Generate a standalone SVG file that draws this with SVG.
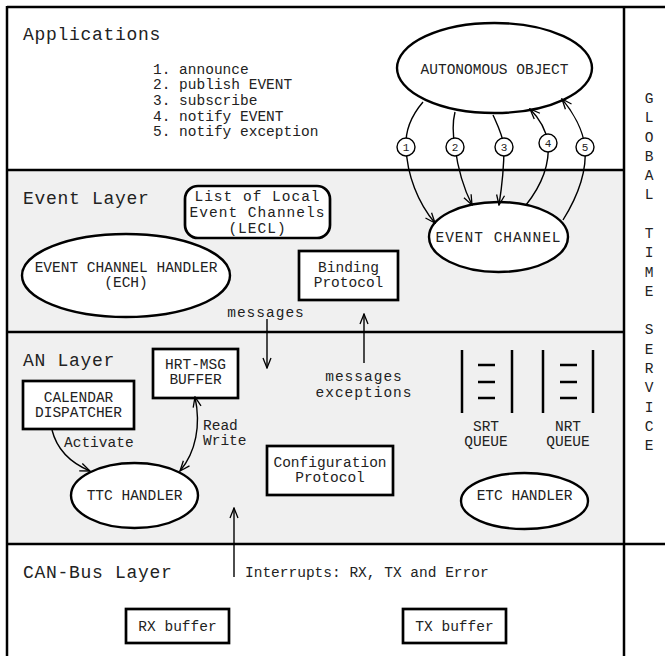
<svg xmlns="http://www.w3.org/2000/svg" width="665" height="656" viewBox="0 0 665 656">
<defs>
<marker id="arr" markerUnits="userSpaceOnUse" markerWidth="12" markerHeight="10" viewBox="0 0 12 10" refX="11" refY="5" orient="auto-start-reverse">
<path d="M1,1 L11,5 L1,9" fill="none" stroke="#000" stroke-width="1.3"/>
</marker>
</defs>
<style>
text{font-family:"Liberation Mono","Courier New",monospace;fill:#222;}
.t{font-size:14.5px;}
.m{font-size:14.5px;letter-spacing:1px;}
.h{font-size:18px;letter-spacing:0.7px;}
.c{text-anchor:middle;}
.box{fill:#fff;stroke:#000;stroke-width:2.7;}
.ell{fill:#fff;stroke:#000;stroke-width:2.4;}
.frame{stroke:#000;stroke-width:2.5;fill:none;}
.con{fill:none;stroke:#000;stroke-width:1.4;}
.num{fill:#fff;stroke:#000;stroke-width:1.4;}
.n{font-size:11px;text-anchor:middle;}
</style>
<rect x="0" y="0" width="665" height="656" fill="#fff"/>
<rect x="7" y="170" width="617" height="162" fill="#f0f0f0"/>
<rect x="7" y="332" width="617" height="212" fill="#f0f0f0"/>
<g id="frame">
<line class="frame" x1="7" y1="7" x2="665" y2="7"/>
<line class="frame" x1="7" y1="6" x2="7" y2="656"/>
<line class="frame" x1="624" y1="6" x2="624" y2="656"/>
<line class="frame" x1="7" y1="170" x2="624" y2="170"/>
<line class="frame" x1="7" y1="332" x2="624" y2="332"/>
<line class="frame" x1="7" y1="544" x2="665" y2="544"/>
</g>
<g id="layer-titles">
<text class="h" x="23" y="40">Applications</text>
<text class="h" x="23" y="204">Event Layer</text>
<text class="h" x="23" y="366">AN Layer</text>
<text class="h" x="23" y="578">CAN-Bus Layer</text>
</g>
<g id="legend">
<text class="t" x="153" y="73.5">1. announce</text>
<text class="t" x="153" y="89">2. publish EVENT</text>
<text class="t" x="153" y="105">3. subscribe</text>
<text class="t" x="153" y="120.5">4. notify EVENT</text>
<text class="t" x="153" y="136">5. notify exception</text>
</g>
<g id="global-time-service">
<text class="t c" x="649" y="103">G</text>
<text class="t c" x="649" y="122.3">L</text>
<text class="t c" x="649" y="141.6">O</text>
<text class="t c" x="649" y="160.8">B</text>
<text class="t c" x="649" y="180.1">A</text>
<text class="t c" x="649" y="199.4">L</text>
<text class="t c" x="649" y="238">T</text>
<text class="t c" x="649" y="257.2">I</text>
<text class="t c" x="649" y="276.5">M</text>
<text class="t c" x="649" y="295.8">E</text>
<text class="t c" x="649" y="334.4">S</text>
<text class="t c" x="649" y="353.6">E</text>
<text class="t c" x="649" y="372.9">R</text>
<text class="t c" x="649" y="392.2">V</text>
<text class="t c" x="649" y="411.5">I</text>
<text class="t c" x="649" y="430.8">C</text>
<text class="t c" x="649" y="450">E</text>
</g>
<g id="autonomous-object">
<ellipse class="ell" cx="494.5" cy="68" rx="97.5" ry="45"/>
<text class="t c" x="494.5" y="74">AUTONOMOUS OBJECT</text>
</g>
<g id="event-channel">
<ellipse class="ell" cx="498.5" cy="237" rx="69.5" ry="35"/>
<text class="m c" x="498.5" y="242">EVENT CHANNEL</text>
</g>
<g id="lecl">
<rect class="box" x="185" y="186" width="145" height="52" rx="13"/>
<text class="m c" x="257.5" y="201">List of Local</text>
<text class="m c" x="257.5" y="217">Event Channels</text>
<text class="m c" x="257.5" y="233">(LECL)</text>
</g>
<g id="ech">
<ellipse class="ell" cx="126" cy="275.5" rx="104" ry="41.5"/>
<text class="t c" x="126" y="272">EVENT CHANNEL HANDLER</text>
<text class="t c" x="126" y="287">(ECH)</text>
</g>
<g id="binding-protocol">
<rect class="box" x="299" y="251" width="99" height="49"/>
<text class="t c" x="348.5" y="272">Binding</text>
<text class="t c" x="348.5" y="287">Protocol</text>
</g>
<g id="hrt-msg-buffer">
<rect class="box" x="153" y="349" width="85" height="49"/>
<text class="t c" x="195.5" y="369">HRT-MSG</text>
<text class="t c" x="195.5" y="384">BUFFER</text>
</g>
<g id="calendar-dispatcher">
<rect class="box" x="23" y="381" width="111" height="48"/>
<text class="t c" x="78.5" y="402">CALENDAR</text>
<text class="t c" x="78.5" y="417">DISPATCHER</text>
</g>
<g id="ttc-handler">
<ellipse class="ell" cx="134.5" cy="495.5" rx="63.5" ry="32.5"/>
<text class="t c" x="134.5" y="500">TTC HANDLER</text>
</g>
<g id="configuration-protocol">
<rect class="box" x="267" y="446" width="126" height="49"/>
<text class="t c" x="330" y="467">Configuration</text>
<text class="t c" x="330" y="482">Protocol</text>
</g>
<g id="srt-queue">
<g stroke="#000" stroke-width="2.5">
<line x1="462" y1="350" x2="462" y2="413"/>
<line x1="512" y1="350" x2="512" y2="413"/>
<line x1="478" y1="365" x2="495" y2="365"/>
<line x1="478" y1="382" x2="495" y2="382"/>
<line x1="478" y1="398" x2="495" y2="398"/>
</g>
<text class="t c" x="486" y="431">SRT</text>
<text class="t c" x="486" y="446">QUEUE</text>
</g>
<g id="nrt-queue">
<g stroke="#000" stroke-width="2.5">
<line x1="543" y1="350" x2="543" y2="413"/>
<line x1="593" y1="350" x2="593" y2="413"/>
<line x1="560" y1="365" x2="577" y2="365"/>
<line x1="560" y1="382" x2="577" y2="382"/>
<line x1="560" y1="398" x2="577" y2="398"/>
</g>
<text class="t c" x="568" y="431">NRT</text>
<text class="t c" x="568" y="446">QUEUE</text>
</g>
<g id="etc-handler">
<ellipse class="ell" cx="524.5" cy="501" rx="63.5" ry="28"/>
<text class="t c" x="524.5" y="500">ETC HANDLER</text>
</g>
<g id="rx-buffer">
<rect class="box" x="126" y="609" width="103" height="34"/>
<text class="t c" x="177.5" y="631">RX buffer</text>
</g>
<g id="tx-buffer">
<rect class="box" x="403" y="609" width="103" height="34"/>
<text class="t c" x="454.5" y="631">TX buffer</text>
</g>
<g id="connectors">
<path class="con" d="M423,102 C411,116 405,130 406,147 C407,175 418,203 435,223" marker-end="url(#arr)"/>
<path class="con" d="M455,112 C452,124 453,136 455,147 C458,170 464,189 472,205" marker-end="url(#arr)"/>
<path class="con" d="M493,115 C498,126 503,136 504,147 C504,166 502,186 499,205" marker-end="url(#arr)"/>
<path class="con" d="M526,205 C541,186 550,165 548,143 C546,129 539,118 530,109" marker-end="url(#arr)"/>
<path class="con" d="M563,220 C578,196 587,170 585,147 C583,130 573,112 562,99" marker-end="url(#arr)"/>
<path class="con" d="M267,319 L267,368" marker-end="url(#arr)"/>
<path class="con" d="M364,363 L364,314" marker-end="url(#arr)"/>
<path class="con" d="M234,577 L234,508" marker-end="url(#arr)"/>
<path class="con" d="M52,430 C57,450 71,463 90,471" marker-end="url(#arr)"/>
<path class="con" d="M195,397 C201,425 196,452 180,471" marker-start="url(#arr)" marker-end="url(#arr)"/>
<circle class="num" cx="406" cy="147" r="9"/>
<circle class="num" cx="455" cy="147" r="9"/>
<circle class="num" cx="504" cy="147" r="9"/>
<circle class="num" cx="548" cy="143" r="9"/>
<circle class="num" cx="585" cy="147" r="9"/>
<text class="n" x="406" y="151">1</text>
<text class="n" x="455" y="151">2</text>
<text class="n" x="504" y="151">3</text>
<text class="n" x="548" y="147">4</text>
<text class="n" x="585" y="151">5</text>
<text class="m c" x="266" y="317">messages</text>
<text class="m c" x="364" y="381">messages</text>
<text class="m c" x="364" y="397">exceptions</text>
<text class="t" x="64" y="447">Activate</text>
<text class="t" x="203" y="430">Read</text>
<text class="t" x="203" y="445">Write</text>
<text class="t" x="245" y="577">Interrupts: RX, TX and Error</text>
</g>
</svg>
